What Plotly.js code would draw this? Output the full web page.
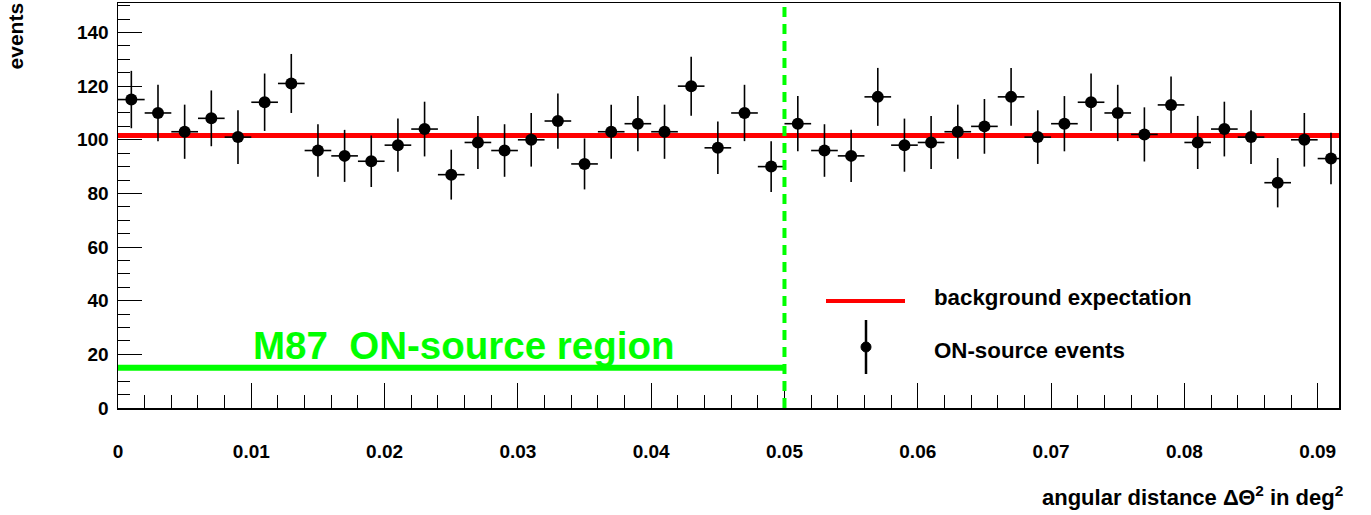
<!DOCTYPE html>
<html>
<head>
<meta charset="utf-8">
<script src="https://cdn.plot.ly/plotly-3.0.1.min.js"></script>
<style>html,body{margin:0;padding:0;background:#fff;}#chart{width:1371px;height:515px;}</style>
</head>
<body>
<div id="chart"></div>
<script>
// Bin centres of the angular distance histogram (deg^2)
const binCenters = [0.001,0.003,0.005,0.007,0.009,0.011,0.013,0.015,0.017,0.019,
  0.021,0.023,0.025,0.027,0.029,0.031,0.033,0.035,0.037,0.039,
  0.041,0.043,0.045,0.047,0.049,0.051,0.053,0.055,0.057,0.059,
  0.061,0.063,0.065,0.067,0.069,0.071,0.073,0.075,0.077,0.079,
  0.081,0.083,0.085,0.087,0.089,0.091];
// ON-source event counts
const onEvents = [115,110,103,108,101,114,121,96,94,92,
  98,104,87,99,96,100,107,91,103,106,
  103,120,97,110,90,106,96,94,116,98,
  99,103,105,116,101,106,114,110,102,113,
  99,104,101,84,100,93];
// Statistical errors on counts
const onErrors = [10.7,10.5,10.1,10.4,10.0,10.7,11.0,9.8,9.7,9.6,
  9.9,10.2,9.3,9.9,9.8,10.0,10.3,9.5,10.1,10.3,
  10.1,11.0,9.8,10.5,9.5,10.3,9.8,9.7,10.8,9.9,
  9.9,10.1,10.2,10.8,10.0,10.3,10.7,10.5,10.1,10.6,
  9.9,10.2,10.0,9.2,10.0,9.6];
const binHalfWidth = 0.001;
const backgroundLevel = 101.6;
const onRegionCut = 0.05;
const onRegionMarkerLevel = 15;
const xTickVals = [0,0.01,0.02,0.03,0.04,0.05,0.06,0.07,0.08,0.09];
const xTickText = ["0","0.01","0.02","0.03","0.04","0.05","0.06","0.07","0.08","0.09"];
const yTickVals = [0,20,40,60,80,100,120,140];
const labels = {
  region: "M87  ON-source region",
  bg: "background expectation",
  on: "ON-source events",
  xTitle: "angular distance \u0394\u0398<sup>2</sup> in deg<sup>2</sup>",
  yTitle: "events"
};

const FONT = "Liberation Sans, Arial, Helvetica, sans-serif";
const GREEN = "#00ff00";

// pixel -> paper helpers (plot area: left 118, right 1339, top 3, bottom 408)
const L = 118, R = 1339, T = 3, B = 408;
const px = v => (v - L) / (R - L);
const py = v => (B - v) / (B - T);

const trace = {
  type: "scatter", mode: "markers",
  x: binCenters, y: onEvents,
  marker: {color: "#000", size: 12, symbol: "circle"},
  error_y: {type: "data", array: onErrors, visible: true, color: "#000", thickness: 1.6, width: 0},
  error_x: {type: "constant", value: binHalfWidth, visible: true, color: "#000", thickness: 1.6, width: 0},
  hoverinfo: "skip", showlegend: false
};

const layout = {
  width: 1371, height: 515,
  margin: {l: L, r: 1371 - R, t: T, b: 515 - B},
  paper_bgcolor: "#fff", plot_bgcolor: "#fff",
  showlegend: false,
  font: {family: FONT, color: "#000", size: 19, weight: 700},
  xaxis: {
    range: [0, 0.0916], showgrid: false, zeroline: false,
    tickmode: "array", tickvals: xTickVals, ticktext: xTickText,
    ticks: "inside", ticklen: 25, tickwidth: 1, tickcolor: "#000",
    ticklabelstandoff: 26,
    minor: {dtick: 0.002, tick0: 0, ticks: "inside", ticklen: 13, tickwidth: 1, tickcolor: "#000", showgrid: false},
    showline: true, linecolor: "#000", linewidth: 1.5, mirror: true,
    tickfont: {family: FONT, size: 19, weight: 700, color: "#000"}
  },
  yaxis: {
    range: [0, 151], showgrid: false, zeroline: false,
    tickmode: "array", tickvals: yTickVals,
    ticks: "inside", ticklen: 24, tickwidth: 1, tickcolor: "#000",
    ticklabelstandoff: 4,
    minor: {dtick: 5, tick0: 0, ticks: "inside", ticklen: 12, tickwidth: 1, tickcolor: "#000", showgrid: false},
    showline: true, linecolor: "#000", linewidth: 1.5, mirror: true,
    tickfont: {family: FONT, size: 19, weight: 700, color: "#000"}
  },
  shapes: [
    // background expectation
    {type: "line", xref: "paper", yref: "y", x0: 0, x1: 1, y0: backgroundLevel, y1: backgroundLevel,
     line: {color: "#ff0000", width: 5}, layer: "below"},
    // ON region cut
    {type: "line", xref: "x", yref: "paper", x0: onRegionCut, x1: onRegionCut, y0: 0, y1: 1,
     line: {color: GREEN, width: 4, dash: "10px,7px"}},
    {type: "line", xref: "x", yref: "y", x0: 0, x1: onRegionCut, y0: onRegionMarkerLevel, y1: onRegionMarkerLevel,
     line: {color: GREEN, width: 6}},
    // legend symbols
    {type: "line", xref: "paper", yref: "paper", x0: px(826), x1: px(905), y0: py(301), y1: py(301),
     line: {color: "#ff0000", width: 4}},
    {type: "line", xref: "paper", yref: "paper", x0: px(866), x1: px(866), y0: py(320), y1: py(374),
     line: {color: "#000", width: 2.5}},
    {type: "circle", xref: "paper", yref: "paper", x0: px(861), x1: px(871), y0: py(342), y1: py(352),
     fillcolor: "#000", line: {color: "#000", width: 1}}
  ],
  annotations: [
    {xref: "paper", yref: "paper", x: px(251), y: py(345), xanchor: "left", yanchor: "middle",
     text: labels.region, showarrow: false, font: {family: FONT, size: 38.5, weight: 700, color: GREEN}},
    {xref: "paper", yref: "paper", x: px(932), y: py(297), xanchor: "left", yanchor: "middle",
     text: labels.bg, showarrow: false, font: {family: FONT, size: 22.3, weight: 700, color: "#000"}},
    {xref: "paper", yref: "paper", x: px(932), y: py(350), xanchor: "left", yanchor: "middle",
     text: labels.on, showarrow: false, font: {family: FONT, size: 22.3, weight: 700, color: "#000"}},
    {xref: "paper", yref: "paper", x: px(1345), y: py(496), xanchor: "right", yanchor: "middle",
     text: labels.xTitle, showarrow: false, font: {family: FONT, size: 22, weight: 700, color: "#000"}},
    {xref: "paper", yref: "paper", x: px(15), y: 1.005, xanchor: "center", yanchor: "top", textangle: -90,
     text: labels.yTitle, showarrow: false, font: {family: FONT, size: 21, weight: 700, color: "#000"}}
  ]
};

Plotly.newPlot("chart", [trace], layout, {staticPlot: true, displayModeBar: false});
</script>
</body>
</html>
